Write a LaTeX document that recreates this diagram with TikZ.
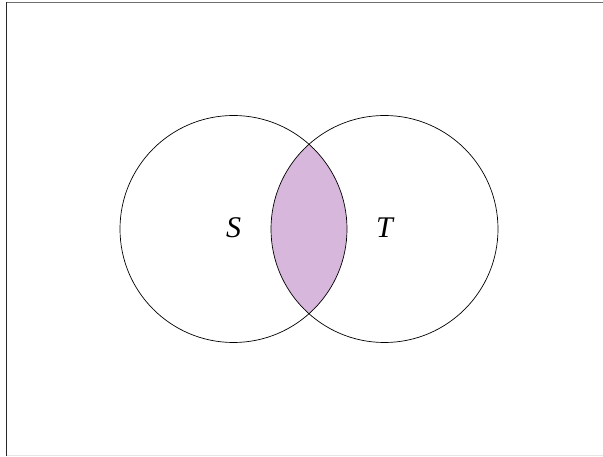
\documentclass[tikz,border=0pt]{standalone}
\usepackage{fontspec}
\setmainfont{Liberation Serif}
\usepackage{xcolor}
\usepackage{tikz}
\usetikzlibrary{calc}
\definecolor{lensfill}{HTML}{D8B7DC}
\definecolor{frameline}{HTML}{6E6E6E}

\begin{document}
\begin{tikzpicture}[x=1pt, y=1pt,
    setlabel/.style={draw=none, fill=none, font=\itshape\fontsize{30}{34}\selectfont}
]
\useasboundingbox (0,0) rectangle (603,456);
% ---- FRAME ----
\draw[frameline, line width=1.5pt] (6.5,453.5) -- (603,453.5);
\draw[black!85, line width=1.5pt] (6.5,454) -- (6.5,0);
\draw[black!10, line width=0.8pt] (6.5,0.8) -- (603,0.8);

% ---- INTERSECTION ----
\begin{scope}
  \clip (233.5,227) circle (113.5);
  \fill[lensfill] (384.5,227) circle (113.5);
\end{scope}

% ---- SETS ----
\draw[line width=0.7pt] (233.5,227) circle (113.5);
\draw[line width=0.7pt] (384.5,227) circle (113.5);
\node[setlabel] (lS) at (233.5,228) {S};
\node[setlabel] (lT) at (384.5,228) {T};
\end{tikzpicture}
\end{document}
